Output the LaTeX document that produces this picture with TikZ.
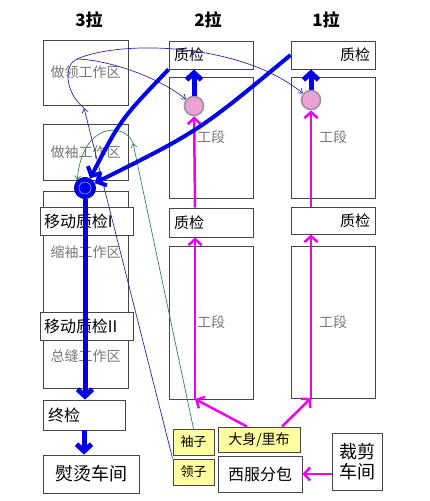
\documentclass[tikz,border=0pt]{standalone}
\usepackage{fontspec}
\setmainfont{Noto Sans CJK SC}
\usetikzlibrary{arrows.meta, positioning, calc}
\definecolor{myblue}{RGB}{0,0,235}
\definecolor{mynavy}{RGB}{40,40,170}
\definecolor{mygreen}{RGB}{50,130,90}
\definecolor{mymagenta}{RGB}{240,0,240}
\definecolor{mypink}{RGB}{240,160,215}
\definecolor{ringgray}{RGB}{160,150,165}
\definecolor{myyellow}{RGB}{255,255,160}
\definecolor{myframe}{RGB}{70,70,70}
\definecolor{txtgray}{RGB}{120,120,120}
\newcommand{\fsz}[1]{\fontsize{#1}{#1}\selectfont}
\tikzset{
  title/.style={font=\fsz{17}\bfseries},
  area/.style={rectangle, draw=myframe, fill=white, line width=0.8pt,
    inner sep=0pt, text=txtgray, font=\fsz{14}},
  areatext/.style={inner sep=0pt, text=txtgray, font=\fsz{14}},
  qcleft/.style={rectangle, draw=myframe, fill=white, line width=0.8pt,
    inner sep=0pt, minimum width=84pt, minimum height=28pt,
    text width=74pt, align=left, font=\fsz{15}},
  qcright/.style={qcleft, align=right},
  plainbox/.style={rectangle, draw=myframe, fill=white, line width=0.8pt,
    inner sep=0pt, font=\fsz{16}},
  partbox/.style={rectangle, draw=myframe, fill=myyellow, line width=0.8pt,
    inner sep=0pt, font=\fsz{13}},
  pinkdot/.style={circle, draw=ringgray, fill=mypink, line width=1.8pt,
    minimum size=19pt, inner sep=0pt,
    path picture={\draw[ringgray!70!white, line width=0.5pt]
      (path picture bounding box.center) circle (6pt);}},
  bluedot/.style={circle, draw=myblue!80!black, fill=myblue, line width=1pt,
    minimum size=21pt, inner sep=0pt,
    path picture={\draw[myblue!40!white, line width=0.6pt]
      (path picture bounding box.center) circle (6pt);}},
  bluearrow/.style={-{Straight Barb[length=7pt,width=15pt]}, line width=4pt, color=myblue},
  magarrow/.style={-{Straight Barb[length=6pt,width=13pt]}, line width=2.5pt, color=mymagenta},
  thinline/.style={line width=0.7pt, color=mynavy},
  thinarrow/.style={-{Straight Barb[length=4pt,width=6pt]}, line width=0.7pt, color=mynavy},
  greenarrow/.style={-{Straight Barb[length=4pt,width=6pt]}, line width=0.7pt, color=mygreen}
}

\begin{document}
\begin{tikzpicture}[x=1pt, y=-1pt]
  \useasboundingbox (0,0) rectangle (430,501);
  % titles
  \node[title] (t3) at (89,20) {3拉};
  \node[title] (t2) at (208,20) {2拉};
  \node[title] (t1) at (326,20) {1拉};
  % 3拉
  \node[area, minimum width=85pt, minimum height=65pt] (zl) at (85.5,72.5) {做领工作区};
  \node[area, minimum width=85pt, minimum height=56pt] (zx) at (85.5,152) {做袖工作区};
  \node[area, minimum width=85pt, minimum height=134pt] (sx) at (85.5,258) {};
  \node[area, minimum width=85pt, minimum height=63pt] (zf) at (85.5,356.5) {总缝工作区};
  \node[areatext] (sxt) at (85.5,252) {缩袖工作区};
  \node[qcleft, minimum width=93pt, text width=85pt, font=\fsz{16}] (yd1) at (86.5,221.5) {移动质检I};
  \node[qcleft, minimum width=93pt, text width=85pt, font=\fsz{16}] (yd2) at (86.5,326) {移动质检II};
  \node[qcleft, minimum width=82pt, minimum height=30pt, text width=72pt, font=\fsz{16}] (zj) at (84,415) {终检};
  \node[plainbox, minimum width=96pt, minimum height=38pt, font=\fsz{18}] (yt) at (91,474) {熨烫车间};
  % 2拉
  \node[qcleft] (q2a) at (211,55) {质检};
  \node[area, minimum width=84pt, minimum height=121pt] (g2a) at (211,137.5) {工段};
  \node[qcleft, minimum height=29pt] (q2b) at (211,222.5) {质检};
  \node[area, minimum width=84pt, minimum height=153pt] (g2b) at (211,322.5) {工段};
  % 1拉
  \node[qcright] (q1a) at (333,55) {质检};
  \node[area, minimum width=84pt, minimum height=121pt] (g1a) at (333,137.5) {工段};
  \node[qcright, minimum height=27pt] (q1b) at (333,220.5) {质检};
  \node[area, minimum width=84pt, minimum height=152pt] (g1b) at (333,322) {工段};
  % parts and cutting
  \node[partbox, minimum width=41pt, minimum height=26pt] (xz) at (193.5,442) {袖子};
  \node[partbox, minimum width=41pt, minimum height=26pt] (lz) at (193.5,472) {领子};
  \node[partbox, minimum width=82pt, minimum height=25pt, font=\fsz{14}] (ds) at (259,439.5) {大身/里布};
  \node[plainbox, minimum width=84pt, minimum height=36pt] (xf) at (260,474) {西服分包};
  \node[plainbox, minimum width=50pt, minimum height=57pt, font=\fsz{18}, align=center] (cj) at (357,461.5) {裁剪\\[2pt]车间};
  % merge points
  \node[pinkdot] (p2) at (194,106) {};
  \node[pinkdot] (p1) at (311,100) {};
  \node[bluedot] (bc) at (85,188) {};
  \coordinate (m2) at (195,399);
  \coordinate (m1) at (311,398);
  \coordinate (a1) at (84,108);
  \coordinate (j1) at (77,59);
  \coordinate (g1) at (133,143);
  % body flow
  \draw[magarrow] (cj.west |- xf.east) -- (xf.east);
  \draw[magarrow] ([xshift=-12pt]ds.north) -- (m2);
  \draw[magarrow] (m2) -- (m2 |- q2b.south);
  \draw[magarrow] (m2 |- q2b.north) -- (p2);
  \draw[magarrow] ([xshift=23pt]ds.north) -- (m1);
  \draw[magarrow] (m1) -- (m1 |- q1b.south);
  \draw[magarrow] (m1 |- q1b.north) -- (p1);
  % collar flow
  \draw[thinarrow] (lz.north west) -- (a1);
  \draw[thinline] (a1) .. controls (64,92) and (64,64) .. (j1);
  \draw[thinarrow] (j1) .. controls (110,60) and (160,78) .. (p2);
  \draw[thinarrow] (j1) .. controls (120,40) and (240,42) .. (p1);
  % sleeve flow
  \draw[greenarrow] (xz.north) -- (g1);
  \draw[greenarrow] (g1) .. controls (125,122) and (82,122) .. (bc.north west);
  % checked output
  \draw[bluearrow, line width=5pt] (p2) -- (p2 |- q2a.south);
  \draw[bluearrow, line width=5pt] (p1) -- (p1 |- q1a.south);
  \draw[bluearrow] (q2a.south west) .. controls (121,119) .. (bc);
  \draw[bluearrow] (q1a.west) .. controls (199,131) .. (bc);
  \draw[bluearrow, line width=5pt] (bc) -- (bc |- zj.north);
  \draw[bluearrow, line width=5pt] (zj.south) -- (zj.south |- yt.north);
\end{tikzpicture}
\end{document}
